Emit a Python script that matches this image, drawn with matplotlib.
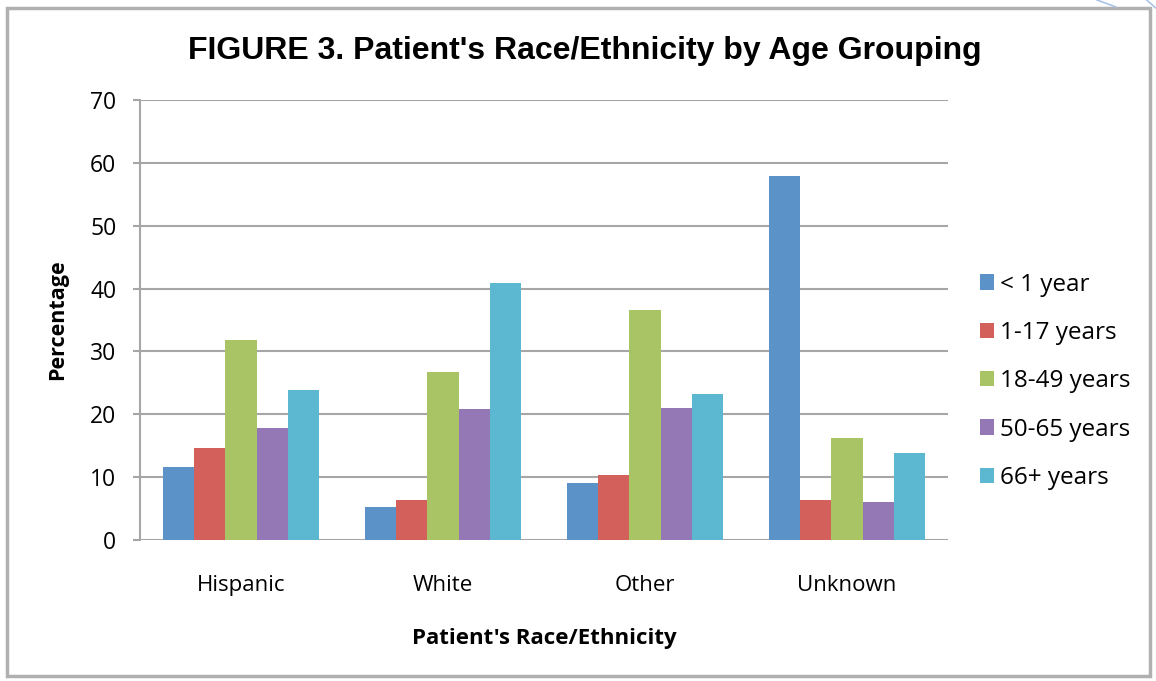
import numpy as np
import matplotlib
matplotlib.use('Agg')
import matplotlib.pyplot as plt
from matplotlib.patches import Rectangle
from matplotlib.lines import Line2D

# Percentages by race/ethnicity for each age group
categories = ['Hispanic', 'White', 'Other', 'Unknown']
age_groups = ['< 1 year', '1-17 years', '18-49 years', '50-65 years', '66+ years']
under_1 = [11.6, 5.2, 9.0, 57.9]
age_1_17 = [14.6, 6.3, 10.3, 6.3]
age_18_49 = [31.9, 26.8, 36.6, 16.3]
age_50_65 = [17.9, 20.8, 21.0, 6.1]
age_66_plus = [23.9, 40.9, 23.2, 13.8]
series = [under_1, age_1_17, age_18_49, age_50_65, age_66_plus]
colors = ['#5b93c9', '#d3605a', '#a8c465', '#9478b5', '#5bb8d0']

fig = plt.figure(figsize=(11.56, 6.81), dpi=100)
ax = fig.add_axes([0.1211, 0.207, 0.6990, 0.646])

x = np.arange(len(categories))
width = 0.155
for i, (vals, c) in enumerate(zip(series, colors)):
    ax.bar(x + (i - 2) * width, vals, width, color=c, label=age_groups[i], zorder=3)

ax.set_xlim(-0.5, 3.5)
ax.set_ylim(0, 70)
ax.set_yticks(range(0, 71, 10))
ax.yaxis.grid(True, color='#a6a6a6', linewidth=1.5, zorder=0)
ax.set_xticks(x)
ax.set_xticklabels(categories)
ax.tick_params(axis='x', length=0, pad=25, labelsize=16)
ax.tick_params(axis='y', length=5, width=1.5, color='#a6a6a6', pad=12, labelsize=16.5)
for lab in ax.get_xticklabels() + ax.get_yticklabels():
    lab.set_family('Open Sans')
for s in ['top', 'right', 'bottom']:
    ax.spines[s].set_visible(False)
ax.spines['left'].set_color('#a6a6a6')
ax.spines['left'].set_linewidth(1.5)

ax.set_ylabel('Percentage', fontsize=15.5, fontweight='bold', family='Open Sans', labelpad=16)
ax.set_xlabel("Patient's Race/Ethnicity", fontsize=16, fontweight='bold', family='Open Sans', labelpad=23)

fig.text(0.506, 0.925, "FIGURE 3. Patient's Race/Ethnicity by Age Grouping",
         ha='center', va='center', fontsize=23, fontweight='bold', family='Liberation Sans')

leg = ax.legend(loc='center left', bbox_to_anchor=(1.012, 0.361), frameon=False,
                prop={'family': 'Open Sans', 'size': 17.5}, handlelength=0.6,
                handleheight=0.6, handletextpad=0.25, labelspacing=1.0)

# Outer chart border
fig.patches.append(Rectangle((0.006, 0.007), 0.989, 0.981, transform=fig.transFigure,
                             fill=False, edgecolor='#b0b0b0', linewidth=2.5))

# Page-curl strokes in the top-right corner
fig.lines.append(Line2D([0.949, 0.965], [1.0, 0.99], transform=fig.transFigure,
                        color='#a9c3e6', linewidth=1.2))
fig.lines.append(Line2D([0.992, 1.0], [1.0, 0.988], transform=fig.transFigure,
                        color='#a9c3e6', linewidth=1.2))

fig.savefig('out.png', dpi=100)
